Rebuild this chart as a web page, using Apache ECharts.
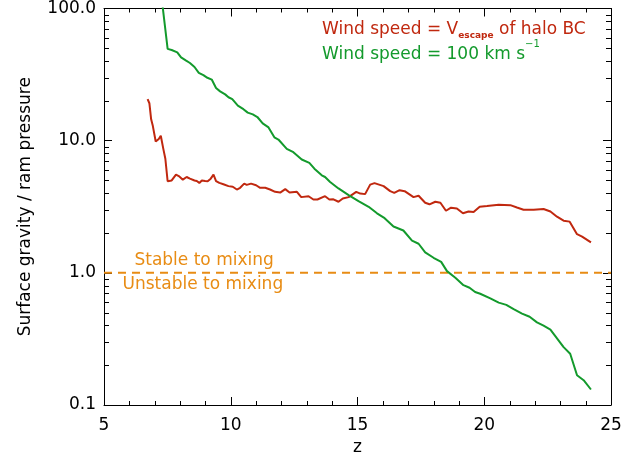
<!DOCTYPE html>
<html><head><meta charset="utf-8">
<script src="https://cdn.jsdelivr.net/npm/echarts@6/dist/echarts.min.js"></script>
<style>html,body{margin:0;padding:0;background:#fff}#c{width:634px;height:462px}</style>
</head><body><div id="c"></div>
<script>
var redZ = [6.72,6.79,6.86,6.92,7.04,7.16,7.24,7.34,7.42,7.51,
  7.67,7.74,7.84,7.95,8.11,8.26,8.39,8.57,8.66,8.76,
  8.86,8.99,9.09,9.21,9.32,9.42,9.55,9.71,9.91,10.08,
  10.24,10.37,10.53,10.63,10.80,11.00,11.16,11.36,11.55,11.75,
  11.95,12.15,12.32,12.61,12.78,13.07,13.26,13.42,13.72,13.89,
  14.05,14.25,14.42,14.65,14.95,15.11,15.30,15.50,15.67,16.03,
  16.29,16.45,16.66,16.86,17.21,17.41,17.67,17.84,18.07,18.27,
  18.49,18.69,18.92,19.16,19.38,19.58,19.82,20.11,20.57,21.03,
  21.29,21.55,21.95,22.34,22.61,22.87,23.13,23.37,23.66,23.86,
  24.21];
var redV = [20.6,19.2,14.5,13.1,9.85,10.3,10.9,8.67,7.3,4.93,
  5.0,5.0,5.54,5.4,5.07,5.31,5.16,5.0,4.95,4.79,
  5.0,4.95,4.93,5.16,5.54,4.95,4.79,4.68,4.53,4.48,
  4.27,4.4,4.73,4.63,4.73,4.6,4.4,4.4,4.27,4.1,
  4.05,4.3,4.05,4.1,3.74,3.8,3.59,3.59,3.8,3.59,
  3.6,3.45,3.65,3.74,4.1,3.98,3.94,4.65,4.77,4.53,
  4.15,4.03,4.22,4.15,3.74,3.83,3.39,3.3,3.45,3.39,
  2.95,3.11,3.07,2.82,2.91,2.88,3.16,3.2,3.27,3.25,
  3.12,3.0,3.0,3.04,2.91,2.66,2.48,2.44,1.96,1.88,
  1.70];
var greenZ = [7.25,7.51,7.67,7.89,8.04,8.24,8.39,8.57,8.74,8.92,
  9.08,9.25,9.42,9.58,9.78,9.91,10.06,10.28,10.50,10.67,
  10.87,11.05,11.26,11.49,11.72,11.88,12.21,12.47,12.80,13.10,
  13.30,13.59,13.72,13.92,14.25,14.65,15.04,15.44,15.77,16.07,
  16.42,16.81,17.15,17.41,17.67,18.00,18.30,18.53,18.86,19.18,
  19.42,19.64,19.84,20.24,20.57,20.87,21.16,21.49,21.79,22.08,
  22.34,22.61,22.84,23.13,23.39,23.66,23.92,24.21];
var greenV = [131,49.5,48.5,46.6,42.7,40.3,38.7,36.1,32.6,31.3,
  29.9,29.0,25.0,23.6,22.4,21.3,20.6,18.4,17.3,16.3,
  15.8,15.1,13.5,12.6,10.6,10.2,8.67,8.18,7.2,6.8,
  6.14,5.47,5.31,4.87,4.35,3.87,3.49,3.16,2.82,2.59,
  2.24,2.09,1.75,1.66,1.43,1.30,1.21,1.03,0.917,0.807,
  0.771,0.716,0.695,0.641,0.595,0.572,0.531,0.492,0.465,0.422,
  0.398,0.372,0.325,0.274,0.244,0.168,0.154,0.131];
var mixZ = [5, 25];
var mixV = [1, 1];
var annoText = ['Stable to mixing', 'Unstable to mixing'];
var annoZ = [8.95, 8.9];
var annoV = [1.245, 0.81];
var xMin = 5, xMax = 25, xInterval = 5;
var yMin = 0.1, yMax = 100;
var xMinorTicks = [6,7,8,9,11,12,13,14,16,17,18,19,21,22,23,24];
var yMinorTicks = [0.2,0.3,0.4,0.5,0.6,0.7,0.8,0.9,2,3,4,5,6,7,8,9,20,30,40,50,60,70,80,90];

var RED = '#c0280f', GREEN = '#139a2c', ORANGE = '#e88c14';
var FONT = 'DejaVu Sans';

function pairs(xs, ys){ return xs.map(function(x,i){ return [x, ys[i]]; }); }

var xAxisBase = {
  type:'value', min:xMin, max:xMax, interval:xInterval,
  axisLine:{show:true, onZero:false, lineStyle:{color:'#000', width:1}},
  axisTick:{show:true, inside:true, length:8, lineStyle:{color:'#000'}},
  splitLine:{show:false}
};
var yAxisBase = {
  type:'log', logBase:10, min:yMin, max:yMax,
  axisLine:{show:true, onZero:false, lineStyle:{color:'#000', width:1}},
  axisTick:{show:true, inside:true, length:8, lineStyle:{color:'#000'}},
  splitLine:{show:false}
};

var chart = echarts.init(document.getElementById('c'), null, {renderer:'canvas'});
chart.setOption({
  animation:false,
  backgroundColor:'#fff',
  grid:{left:104, right:23, top:5, bottom:57, containLabel:false},
  xAxis:[
    Object.assign({}, xAxisBase, {
      position:'bottom', name:'z', nameLocation:'middle', nameGap:32,
      nameTextStyle:{color:'#000', fontFamily:FONT, fontSize:17},
      axisLabel:{show:true, color:'#000', fontFamily:FONT, fontSize:17, margin:12}
    }),
    Object.assign({}, xAxisBase, {position:'top', axisLabel:{show:false}})
  ],
  yAxis:[
    Object.assign({}, yAxisBase, {
      position:'left', name:'Surface gravity / ram pressure', nameLocation:'middle', nameGap:70,
      nameTextStyle:{color:'#000', fontFamily:FONT, fontSize:17},
      axisLabel:{show:true, color:'#000', fontFamily:FONT, fontSize:17, margin:8,
        formatter:function(v){ return Number(v).toFixed(1); }}
    }),
    Object.assign({}, yAxisBase, {position:'right', axisLabel:{show:false}})
  ],
  series:[
    {type:'line', name:'mix', data:pairs(mixZ, mixV), showSymbol:false, symbol:'none',
     lineStyle:{color:ORANGE, width:2, type:[8,6]}, z:3},
    {type:'line', name:'red', data:pairs(redZ, redV), showSymbol:false, symbol:'none',
     lineStyle:{color:RED, width:2}, clip:true, z:4},
    {type:'line', name:'green', data:pairs(greenZ, greenV), showSymbol:false, symbol:'none',
     lineStyle:{color:GREEN, width:2}, clip:true, z:4},
    {type:'scatter', name:'anno', symbolSize:0, silent:true,
     itemStyle:{opacity:1, color:ORANGE},
     data:annoText.map(function(t,i){ return {name:t, value:[annoZ[i], annoV[i]]}; }),
     label:{show:true, position:'inside', formatter:'{b}', color:ORANGE, opacity:1, fontFamily:FONT, fontSize:17}},
    {type:'custom', name:'yminor', silent:true, z:5,
     data:yMinorTicks.map(function(v){ return [xMin, v]; }),
     renderItem:function(params, api){
       var cs = params.coordSys;
       var y = Math.round(api.coord([xMin, api.value(1)])[1]) + 0.5;
       var st = {stroke:'#000', lineWidth:1};
       return {type:'group', children:[
         {type:'line', shape:{x1:cs.x, y1:y, x2:cs.x+5, y2:y}, style:st},
         {type:'line', shape:{x1:cs.x+cs.width, y1:y, x2:cs.x+cs.width-5, y2:y}, style:st}
       ]};
     }},
    {type:'custom', name:'xminor', silent:true, z:5,
     data:xMinorTicks.map(function(v){ return [v, yMin]; }),
     renderItem:function(params, api){
       var cs = params.coordSys;
       var x = Math.round(api.coord([api.value(0), yMin])[0]) + 0.5;
       var st = {stroke:'#000', lineWidth:1};
       return {type:'group', children:[
         {type:'line', shape:{x1:x, y1:cs.y+cs.height, x2:x, y2:cs.y+cs.height-4}, style:st},
         {type:'line', shape:{x1:x, y1:cs.y, x2:x, y2:cs.y+4}, style:st}
       ]};
     }}
  ],
  graphic:[
    {type:'text', x:322, y:30, silent:true,
     style:{text:'{m|Wind speed = V}{s|escape}{m| of halo BC}', align:'left', verticalAlign:'middle',
       fill:RED,
       rich:{
         m:{fontFamily:FONT, fontSize:17, lineHeight:20, verticalAlign:'middle', fill:RED, color:RED},
         s:{fontFamily:FONT, fontSize:9, fontWeight:'bold', lineHeight:10, verticalAlign:'bottom', fill:RED, color:RED}
       }}},
    {type:'text', x:322, y:54.5, silent:true,
     style:{text:'{m|Wind speed = 100 km s}{p|\u22121}', align:'left', verticalAlign:'middle',
       fill:GREEN,
       rich:{
         m:{fontFamily:FONT, fontSize:17, lineHeight:30, verticalAlign:'middle', fill:GREEN, color:GREEN},
         p:{fontFamily:FONT, fontSize:10, lineHeight:8, verticalAlign:'top', fill:GREEN, color:GREEN}
       }}}
  ]
});
</script></body></html>
